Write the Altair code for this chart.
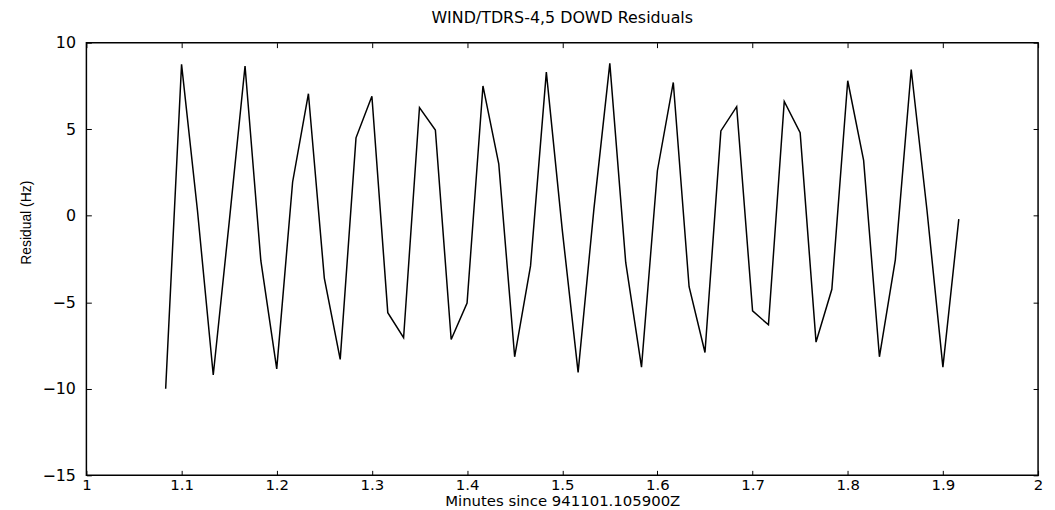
import altair as alt
import pandas as pd

# Time axis (minutes since 941101.105900Z), one sample per second
minutes = [
    1.0833, 1.1000, 1.1167, 1.1333, 1.1500, 1.1667, 1.1833, 1.2000, 1.2167, 1.2333,
    1.2500, 1.2667, 1.2833, 1.3000, 1.3167, 1.3333, 1.3500, 1.3667, 1.3833, 1.4000,
    1.4167, 1.4333, 1.4500, 1.4667, 1.4833, 1.5000, 1.5167, 1.5333, 1.5500, 1.5667,
    1.5833, 1.6000, 1.6167, 1.6333, 1.6500, 1.6667, 1.6833, 1.7000, 1.7167, 1.7333,
    1.7500, 1.7667, 1.7833, 1.8000, 1.8167, 1.8333, 1.8500, 1.8667, 1.8833, 1.9000,
    1.9167,
]

# DOWD residuals (Hz)
residuals = [
    -10.0, 8.75, 0.3, -9.2, -0.4, 8.65, -2.6, -8.85, 1.95, 7.05,
    -3.6, -8.3, 4.5, 6.9, -5.6, -7.05, 6.25, 4.95, -7.15, -5.05,
    7.5, 3.0, -8.15, -2.9, 8.3, -0.8, -9.05, 0.4, 8.8, -2.7,
    -8.75, 2.6, 7.7, -4.1, -7.9, 4.9, 6.3, -5.5, -6.3, 6.6,
    4.8, -7.3, -4.25, 7.8, 3.2, -8.15, -2.55, 8.45, 0.3, -8.75,
    -0.2,
]

x_ticks = [1.0, 1.1, 1.2, 1.3, 1.4, 1.5, 1.6, 1.7, 1.8, 1.9, 2.0]
y_ticks = [-15, -10, -5, 0, 5, 10]

df = pd.DataFrame({"minutes": minutes, "residual": residuals})

FONT = "DejaVu Sans"

x_scale = alt.Scale(domain=[1, 2], nice=False, zero=False)
y_scale = alt.Scale(domain=[-15, 10], nice=False, zero=False)

main = alt.Chart(df).mark_line(color="black", strokeWidth=1.5).encode(
    x=alt.X(
        "minutes:Q",
        scale=x_scale,
        axis=alt.Axis(
            orient="bottom",
            values=x_ticks,
            format="~g",
            offset=-5,
            tickSize=5,
            tickColor="black",
            domain=False,
            grid=False,
            labelPadding=2,
            labelFontSize=15,
            labelFont=FONT,
            labelColor="black",
            labelFlush=False,
            title="Minutes since 941101.105900Z",
            titleFont=FONT,
            titleFontSize=15,
            titleFontWeight="normal",
            titleColor="black",
            titlePadding=1,
        ),
    ),
    y=alt.Y(
        "residual:Q",
        scale=y_scale,
        axis=alt.Axis(
            orient="left",
            values=y_ticks,
            offset=-5,
            tickSize=5,
            tickColor="black",
            domain=False,
            grid=False,
            labelPadding=11,
            labelFontSize=16,
            labelFont=FONT,
            labelColor="black",
            labelFlush=False,
            title="Residual (Hz)",
            titleFont="Liberation Sans",
            titleFontSize=14,
            titleFontWeight="normal",
            titleColor="black",
            titlePadding=9,
            titleY=181,
        ),
    ),
)

frame_ticks = alt.Chart(df).mark_line(opacity=0).encode(
    x=alt.X(
        "minutes:Q",
        scale=x_scale,
        axis=alt.Axis(
            orient="top", values=x_ticks, offset=-5, tickSize=5, tickColor="black",
            domain=False, grid=False, labels=False, title=None,
        ),
    ),
    y=alt.Y(
        "residual:Q",
        scale=y_scale,
        axis=alt.Axis(
            orient="right", values=y_ticks, offset=-5, tickSize=5, tickColor="black",
            domain=False, grid=False, labels=False, title=None,
        ),
    ),
)

chart = (
    alt.layer(main, frame_ticks)
    .resolve_axis(x="independent", y="independent")
    .properties(
        width=959,
        height=436,
        view=alt.ViewBackground(stroke="black", strokeWidth=1.5, fill="white"),
        title=alt.TitleParams(
            "WIND/TDRS-4,5 DOWD Residuals",
            font=FONT,
            fontSize=16,
            fontWeight="normal",
            color="black",
            anchor="middle",
            offset=9,
        ),
        autosize=alt.AutoSizeParams(type="none"),
        padding={"left": 79, "top": 33, "right": 9, "bottom": 33},
    )
    .configure_view(stroke="black", strokeWidth=1.5)
    .configure(background="white")
)

chart.save("out.html", embed_options={"renderer": "svg", "actions": False})
